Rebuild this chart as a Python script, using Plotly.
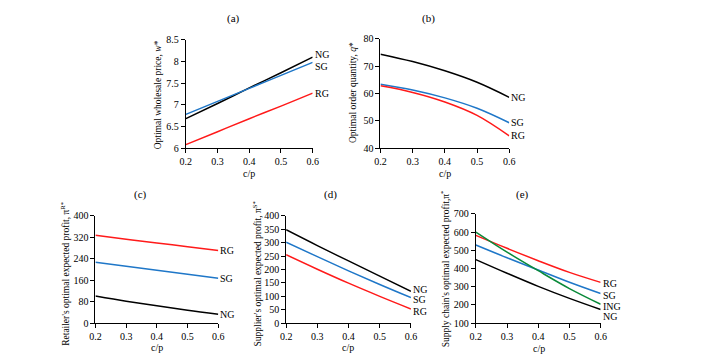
import plotly.graph_objects as go

# ---------------- data ----------------
cp = [0.2, 0.3, 0.4, 0.5, 0.6]

# (a) optimal wholesale price
w_NG = [6.68, 7.03, 7.39, 7.74, 8.10]
w_SG = [6.78, 7.08, 7.38, 7.68, 7.98]
w_RG = [6.08, 6.38, 6.68, 6.97, 7.27]

# (b) optimal order quantity
q_NG = [74.4, 71.7, 68.3, 64.1, 58.6]
q_SG = [63.4, 61.3, 58.4, 54.6, 49.3]
q_RG = [62.8, 60.4, 56.9, 52.0, 44.5]

# (c) retailer's optimal expected profit
r_NG = [101, 82, 65, 48, 33]
r_SG = [227, 212, 197, 182, 167]
r_RG = [328, 313, 299, 285, 271]

# (d) supplier's optimal expected profit
s_NG = [348, 289, 232, 175, 119]
s_SG = [302, 248, 195, 144, 95]
s_RG = [255, 201, 149, 100, 53]

# (e) supply chain's optimal expected profit
t_RG = [582, 511, 443, 379, 324]
t_SG = [529, 459, 392, 325, 263]
t_ING = [600, 490, 388, 290, 204]
t_NG = [449, 374, 302, 236, 175]

x_ticks = [0.2, 0.3, 0.4, 0.5, 0.6]
x_ticklabels = ["0.2", "0.3", "0.4", "0.5", "0.6"]

panel_titles = ["(a)", "(b)", "(c)", "(d)", "(e)"]
y_titles = [
    "Optimal wholesale price, <i>w</i>*",
    "Optimal order quantity, <i>q</i>*",
    "Retailer's optimal expected profit, π<sup>R*</sup>",
    "Supplier's optimal expected profit, π<sup>S*</sup>",
    "Supply chain's optimal expected profit,π<sup>*</sup>",
]
x_title = "c/p"

# ---------------- style ----------------
W, H = 702, 363
FONT = "Liberation Serif"
C = {"NG": "#000000", "SG": "#1F77C8", "RG": "#FF1A1A", "ING": "#0A8A3A"}

# pixel boxes of plot areas: (left, right, top, bottom)
boxes = [
    (183, 312, 35, 147),
    (381, 512, 34, 147),
    (91, 216, 217, 328),
    (285, 412, 217, 328),
    (478, 605, 215, 328),
]
yranges = [(6, 8.5), (40, 80), (0, 400), (0, 400), (100, 700)]
ydticks = [0.5, 10, 80, 50, 100]

panels = [
    [("NG", w_NG, 3), ("SG", w_SG, -4), ("RG", w_RG, 0)],
    [("NG", q_NG, 0), ("SG", q_SG, 0), ("RG", q_RG, 0)],
    [("RG", r_RG, 0), ("SG", r_SG, 0), ("NG", r_NG, 0)],
    [("NG", s_NG, 2), ("SG", s_SG, -2), ("RG", s_RG, -3)],
    [("RG", t_RG, -1), ("SG", t_SG, -2), ("ING", t_ING, -2), ("NG", t_NG, -7)],
]

# positions of decorations (pixels)
title_pos = [(231, 13), (430, 13), (137, 195), (330, 195), (525, 195)]
ytitle_pos = [(155, 92), (353, 89), (60, 277), (255, 277), (447, 272)]
xtitle_pos = [(247, 173), (447, 173), (154, 353), (348, 353), (542, 354)]


def px(x):
    return x / W


def py(y):
    return 1 - y / H


fig = go.Figure()
annotations = []
layout = {}

for i, (box, yr, dt, series) in enumerate(zip(boxes, yranges, ydticks, panels)):
    n = "" if i == 0 else str(i + 1)
    xa, ya = "x" + n, "y" + n
    l, r, t, b = box
    layout["xaxis" + n] = dict(
        domain=[px(l), px(r)], range=[0.2, 0.6], anchor=ya,
        tickmode="array", tickvals=x_ticks, ticktext=x_ticklabels,
        showline=True, linecolor="#000000", linewidth=1, mirror=False,
        ticks="outside", ticklen=4, tickwidth=1, tickcolor="#000000",
        showgrid=False, zeroline=False,
        tickfont=dict(family=FONT, size=10, color="#000000"),
    )
    layout["yaxis" + n] = dict(
        domain=[py(b), py(t)], range=list(yr), anchor=xa,
        tick0=yr[0], dtick=dt,
        showline=True, linecolor="#000000", linewidth=1,
        ticks="outside", ticklen=4, tickwidth=1, tickcolor="#000000",
        showgrid=False, zeroline=False,
        tickfont=dict(family=FONT, size=10, color="#000000"),
    )
    for name, vals, ysh in series:
        fig.add_trace(go.Scatter(
            x=cp, y=vals, mode="lines", xaxis=xa, yaxis=ya,
            line=dict(color=C[name], width=1.5, shape="spline", smoothing=1.0),
            showlegend=False, hoverinfo="skip", cliponaxis=False,
        ))
        annotations.append(dict(
            x=cp[-1], y=vals[-1], xref=xa, yref=ya, text=name,
            showarrow=False, xanchor="left", yanchor="middle",
            xshift=0, yshift=ysh,
            font=dict(family=FONT, size=10, color="#000000"),
        ))
    tx, ty = title_pos[i]
    annotations.append(dict(
        x=px(tx), y=py(ty), xref="paper", yref="paper", text=panel_titles[i],
        showarrow=False, xanchor="center", yanchor="middle",
        font=dict(family=FONT, size=11, color="#000000"),
    ))
    yx, yy = ytitle_pos[i]
    annotations.append(dict(
        x=px(yx), y=py(yy), xref="paper", yref="paper", text=y_titles[i],
        showarrow=False, xanchor="center", yanchor="middle", textangle=-90,
        font=dict(family=FONT, size=9.5, color="#000000"),
    ))
    xx, xy = xtitle_pos[i]
    annotations.append(dict(
        x=px(xx), y=py(xy), xref="paper", yref="paper", text=x_title,
        showarrow=False, xanchor="center", yanchor="middle",
        font=dict(family=FONT, size=10, color="#000000"),
    ))

fig.update_layout(
    width=W, height=H,
    margin=dict(l=0, r=0, t=0, b=0),
    paper_bgcolor="#FFFFFF", plot_bgcolor="#FFFFFF",
    annotations=annotations,
    **layout,
)

fig.write_html(
    "out.html",
    config={"displayModeBar": False},
    post_script="document.body.style.margin='0';document.body.style.overflow='hidden';",
)
